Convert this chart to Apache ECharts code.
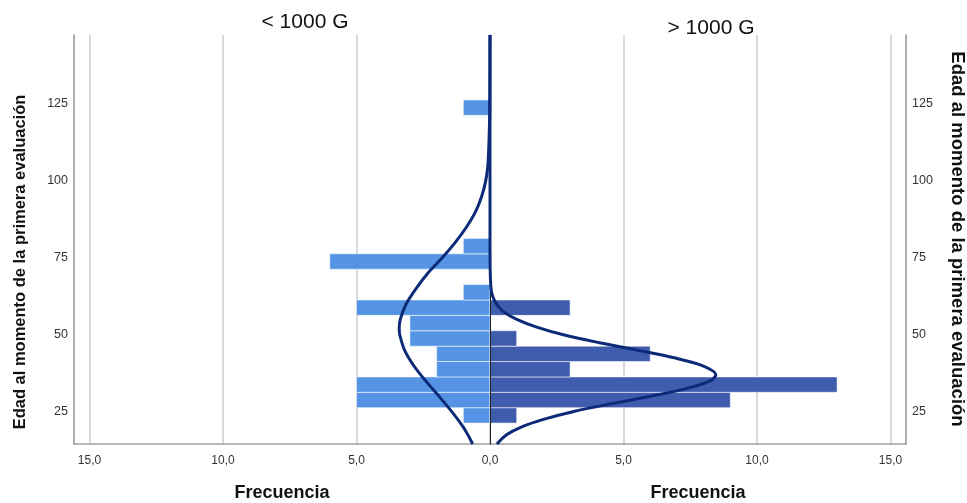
<!DOCTYPE html>
<html><head><meta charset="utf-8">
<script src="https://cdn.jsdelivr.net/npm/echarts@6/dist/echarts.min.js"></script>
<style>html,body{margin:0;padding:0;background:#fff}#c{width:967px;height:503px}</style>
</head><body><div id="c"></div>
<script>
// ---------- data ----------
const groupTitles = ['< 1000 G', '> 1000 G'];
const xName = 'Frecuencia';
const yName = 'Edad al momento de la primera evaluación';
const binWidth = 5;
const yTicks = [25, 50, 75, 100, 125];
const xTicksLeft = [0, 5, 10, 15];
const xTicksRight = [5, 10, 15];

const leftAges   = [23.8, 28.8, 33.8, 38.8, 43.8, 48.8, 53.8, 58.8, 63.8, 73.8, 78.8, 123.8];
const leftCounts = [1, 5, 5, 2, 2, 3, 3, 5, 1, 6, 1, 1];
const rightAges   = [23.8, 28.8, 33.8, 38.8, 43.8, 48.8, 58.8];
const rightCounts = [1, 9, 13, 3, 6, 1, 3];

// fitted normal curves
const leftCurveAge  = [14.5, 17.5, 20, 25, 30, 35, 40, 45, 50, 52, 55, 60, 65, 70, 75, 80, 85, 90, 95, 100, 105, 110, 115, 120, 130, 147.4];
const leftCurveFreq = [0.65, 0.83, 1.0, 1.43, 1.91, 2.41, 2.86, 3.2, 3.38, 3.4, 3.36, 3.14, 2.77, 2.33, 1.79, 1.3, 0.88, 0.54, 0.31, 0.16, 0.08, 0.05, 0.03, 0.015, 0.004, 0];
const rightCurveAge  = [14.5, 17.5, 20, 22.5, 25, 27.5, 30, 32.5, 35, 37, 40, 42.5, 45, 47.5, 50, 52.5, 55, 57.5, 60, 62.5, 65, 70, 80, 147.4];
const rightCurveFreq = [0.26, 0.62, 1.17, 2.0, 3.1, 4.5, 6.0, 7.35, 8.25, 8.46, 7.95, 6.9, 5.5, 4.05, 2.75, 1.75, 1.0, 0.5, 0.24, 0.1, 0.04, 0.01, 0, 0];

// ---------- chart ----------
const Y_MIN = 14.5, Y_MAX = 147.4, X_MAX = 15.58;
const fmt = v => v.toFixed(1).replace('.', ',');
const zip = (a, b) => a.map((v, i) => [v, b[i]]);

function barRenderer(color) {
  return function (params, api) {
    const age = api.value(0), cnt = api.value(1);
    const p0 = api.coord([0, age + binWidth / 2]);
    const p1 = api.coord([cnt, age - binWidth / 2]);
    return {
      type: 'rect',
      shape: { x: Math.min(p0[0], p1[0]), y: p0[1], width: Math.abs(p1[0] - p0[0]), height: p1[1] - p0[1] },
      style: { fill: color, stroke: 'rgba(255,255,255,0.55)', lineWidth: 1 }
    };
  };
}

const xAxisCommon = (gi, inverse, ticks) => ({
  type: 'value', gridIndex: gi, min: 0, max: X_MAX, interval: 5, inverse,
  name: xName, nameLocation: 'middle', nameGap: 40,
  nameTextStyle: { fontFamily: 'Liberation Sans', fontWeight: 'bold', fontSize: 18, color: '#111' },
  axisLine: { show: true, lineStyle: { color: '#a0a0a0', width: 1.5 } },
  axisTick: { show: false },
  axisLabel: { customValues: ticks, formatter: fmt, margin: 11, fontFamily: 'Liberation Sans', fontSize: 12, color: '#333' },
  splitLine: { show: true, lineStyle: { color: '#cccccc', width: 1.5 } }
});

const yAxisCommon = (gi, pos, showLabel, lineColor, lineW, z) => ({
  type: 'value', gridIndex: gi, min: Y_MIN, max: Y_MAX, position: pos, z,
  axisLine: { show: true, onZero: false, lineStyle: { color: lineColor, width: lineW } },
  axisTick: { show: false },
  axisLabel: { show: showLabel, customValues: yTicks, margin: 6, fontFamily: 'Liberation Sans', fontSize: 12.5, color: '#333' },
  splitLine: { show: false }
});

const chart = echarts.init(document.getElementById('c'), null, { renderer: 'canvas' });
chart.setOption({
  animation: false,
  backgroundColor: '#fff',
  grid: [
    { left: 74, top: 35, width: 416, height: 409, containLabel: false, outerBoundsMode: 'none' },
    { left: 490, top: 35, width: 416, height: 409, containLabel: false, outerBoundsMode: 'none' }
  ],
  xAxis: [xAxisCommon(0, true, xTicksLeft), xAxisCommon(1, false, xTicksRight)],
  yAxis: [
    yAxisCommon(0, 'left', true, '#a0a0a0', 1.5, 0),
    yAxisCommon(1, 'right', true, '#a0a0a0', 1.5, 0),
    yAxisCommon(1, 'left', false, '#222', 1, 3)
  ],
  title: [
    { text: groupTitles[0], left: 300, top: 7, textAlign: 'center',
      textStyle: { fontFamily: 'Liberation Sans', fontWeight: 'normal', fontSize: 21, color: '#111' } },
    { text: groupTitles[1], left: 706, top: 13, textAlign: 'center',
      textStyle: { fontFamily: 'Liberation Sans', fontWeight: 'normal', fontSize: 21, color: '#111' } }
  ],
  graphic: [
    { type: 'text', x: 20, y: 262, rotation: Math.PI / 2,
      style: { text: yName, align: 'center', verticalAlign: 'middle', font: 'bold 16.5px "Liberation Sans"', fill: '#111' } },
    { type: 'text', x: 957, y: 239, rotation: -Math.PI / 2,
      style: { text: yName, align: 'center', verticalAlign: 'middle', font: 'bold 18.5px "Liberation Sans"', fill: '#111' } }
  ],
  series: [
    { type: 'custom', xAxisIndex: 0, yAxisIndex: 0, renderItem: barRenderer('#5594e4'),
      encode: { x: 1, y: 0 }, data: zip(leftAges, leftCounts), z: 2 },
    { type: 'custom', xAxisIndex: 1, yAxisIndex: 1, renderItem: barRenderer('#405cac'),
      encode: { x: 1, y: 0 }, data: zip(rightAges, rightCounts), z: 2 },
    { type: 'line', xAxisIndex: 0, yAxisIndex: 0, smooth: 0.3, showSymbol: false, z: 5,
      lineStyle: { color: '#0d2a78', width: 3 }, data: zip(leftCurveFreq, leftCurveAge) },
    { type: 'line', xAxisIndex: 1, yAxisIndex: 1, smooth: 0.3, showSymbol: false, z: 5,
      lineStyle: { color: '#0d2a78', width: 3 }, data: zip(rightCurveFreq, rightCurveAge) }
  ]
});
</script>
</body></html>
